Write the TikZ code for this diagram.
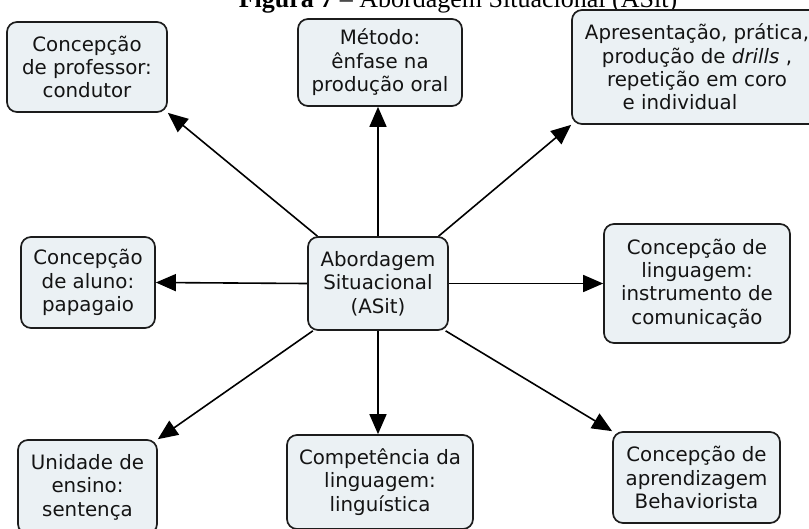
\documentclass[tikz,border=0pt]{standalone}
\usepackage{fontspec}
\setmainfont{Liberation Serif}
\newfontfamily\boxfont{DejaVu Sans}
\usetikzlibrary{arrows.meta}
\definecolor{boxfill}{RGB}{235,241,244}
\definecolor{boxline}{RGB}{28,28,28}
\definecolor{boxtext}{RGB}{20,20,20}
\begin{document}
\begin{tikzpicture}[x=1pt,y=-1pt,
  concept/.style={draw=boxline, line width=1.7pt, fill=boxfill, rounded corners=10pt,
    align=center, inner sep=0pt, text=boxtext,
    font=\boxfont\fontsize{19.8}{23.4}\selectfont},
  link/.style={line width=1.6pt, draw=black, -{Triangle[length=20pt,width=17pt]}}]
\useasboundingbox (0,0) rectangle (809,528);

% caption, partly above the top edge
\node[anchor=base, font=\fontsize{26}{30}\selectfont] (title) at (458,7.5)
  {\textbf{Figura 7} \textendash\ Abordagem Situacional (ASit)};

% central concept
\node[concept, minimum width=140pt, minimum height=93pt] (c) at (378,283.5)
  {Abordagem\\Situacional\\(ASit)};

% surrounding concepts
\node[concept, minimum width=160pt, minimum height=90pt] (prof) at (87,67)
  {Concepção\\de professor:\\condutor};
\node[concept, minimum width=164pt, minimum height=87pt] (met) at (380,62.5)
  {Método:\\ênfase na\\produção oral};
\node[concept, minimum width=250pt, minimum height=114pt] (apres) at (697,67)
  {Apresentação, prática,\\produção de \textit{drills} ,\\repetição em coro\hspace*{18pt}\\e individual\hspace*{34pt}};
\node[concept, minimum width=134pt, minimum height=91pt] (aluno) at (88,282.5)
  {Concepção\\de aluno:\\papagaio};
\node[concept, minimum width=186pt, minimum height=119pt] (ling) at (697,283.5)
  {Concepção de\\linguagem:\\instrumento de\\comunicação};
\node[concept, minimum width=139pt, minimum height=94pt] (unid) at (87.5,487)
  {Unidade de\\ensino:\\sentença};
\node[concept, minimum width=186pt, minimum height=94pt] (comp) at (380,482)
  {Competência da\\linguagem:\\linguística};
\node[concept, minimum width=167pt, minimum height=91pt] (behav) at (696.5,477.5)
  {Concepção de\\aprendizagem\\Behaviorista};

% connectors
\draw[link] (c.142) -- (prof.south east);
\draw[link] (c.north) -- (c.north |- met.south);
\draw[link] (c.38) -- (apres.south west);
\draw[link] (c.west) -- (aluno.east);
\draw[link] (c.east) -- (ling.west);
\draw[link] (c.216) -- (unid.north east);
\draw[link] (c.south) -- (c.south |- comp.north);
\draw[link] (c.325) -- (behav.north west);
\end{tikzpicture}
\end{document}
